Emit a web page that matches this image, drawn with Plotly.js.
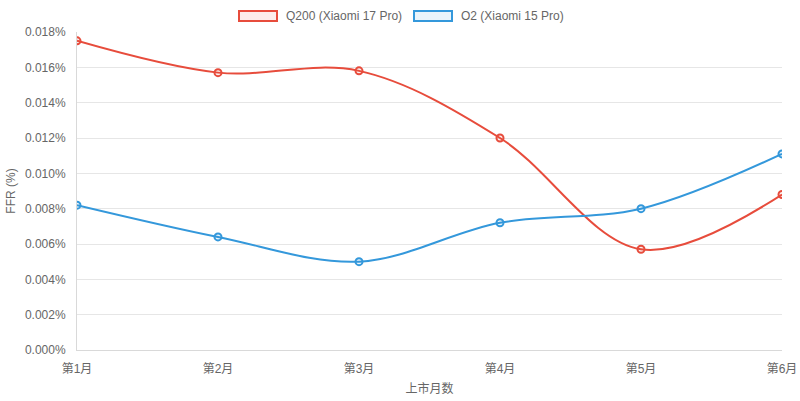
<!DOCTYPE html>
<html>
<head>
<meta charset="utf-8">
<script src="https://cdn.plot.ly/plotly-3.0.1.min.js"></script>
<style>
  html, body { margin: 0; padding: 0; background: #fff; }
  #chart { width: 800px; height: 401px; }
</style>
</head>
<body>
<div id="chart"></div>
<script>
// months since launch
const months = ['第1月', '第2月', '第3月', '第4月', '第5月', '第6月'];
// FFR in percent
const q200 = [0.0175, 0.0157, 0.0158, 0.0120, 0.0057, 0.0088];
const o2 = [0.0082, 0.0064, 0.0050, 0.0072, 0.0080, 0.0111];
const seriesNames = ['Q200 (Xiaomi 17 Pro)', 'O2 (Xiaomi 15 Pro)'];
const yTicks = [0, 0.002, 0.004, 0.006, 0.008, 0.010, 0.012, 0.014, 0.016, 0.018];

const RED = '#e74c3c';
const BLUE = '#3498db';
const FONT = 'Liberation Sans, Arial, Noto Sans CJK SC, sans-serif';

function lineTrace(name, values, color, fill) {
	return {
		x: months,
		y: values,
		name: name,
		type: 'scatter',
		mode: 'lines+markers',
		line: { color: color, width: 2, shape: 'spline', smoothing: 1 },
		marker: { symbol: 'circle', size: 7, color: fill, line: { color: color, width: 2 } },
		showlegend: false,
		hoverinfo: 'x+y+name'
	};
}

const traces = [
	lineTrace(seriesNames[0], q200, RED, 'rgba(231,76,60,0.1)'),
	lineTrace(seriesNames[1], o2, BLUE, 'rgba(52,152,219,0.1)')
];

// chart.js style legend boxes
function legendItem(x, label, color, fill) {
	return [
		{
			xref: 'paper', yref: 'paper', x: x, y: 1, yshift: 16,
			xanchor: 'left', yanchor: 'middle', showarrow: false,
			text: ' ', width: 36, height: 8,
			bgcolor: fill, bordercolor: color, borderwidth: 2, borderpad: 0
		},
		{
			xref: 'paper', yref: 'paper', x: x, y: 1, yshift: 16, xshift: 46,
			xanchor: 'left', yanchor: 'middle', showarrow: false,
			text: label, font: { family: FONT, size: 12, color: '#666' }
		}
	];
}

const layout = {
	width: 800,
	height: 401,
	margin: { l: 77, r: 18, t: 32, b: 51 },
	paper_bgcolor: '#fff',
	plot_bgcolor: '#fff',
	font: { family: FONT, size: 12, color: '#666' },
	showlegend: false,
	xaxis: {
		type: 'category',
		range: [0, months.length - 1],
		showgrid: false,
		showline: true,
		linecolor: '#d9d9d9',
		linewidth: 1,
		ticks: '',
		ticklabelstandoff: 8,
		tickfont: { family: FONT, size: 12, color: '#666' },
		title: { text: '上市月数', standoff: 9, font: { family: FONT, size: 12, color: '#666' } },
		zeroline: false,
		fixedrange: true
	},
	yaxis: {
		range: [0, 0.018],
		tickmode: 'array',
		tickvals: yTicks,
		ticktext: yTicks.map(v => v.toFixed(3) + '%'),
		showgrid: true,
		gridcolor: '#e6e6e6',
		gridwidth: 1,
		showline: true,
		linecolor: '#d9d9d9',
		zeroline: false,
		ticks: '',
		ticklabelstandoff: 8,
		tickfont: { family: FONT, size: 12, color: '#666' },
		title: { text: 'FFR (%)', standoff: 6, font: { family: FONT, size: 12, color: '#666' } },
		fixedrange: true
	},
	annotations: [].concat(
		legendItem(0.229, seriesNames[0], RED, 'rgba(231,76,60,0.1)'),
		legendItem(0.477, seriesNames[1], BLUE, 'rgba(52,152,219,0.1)')
	)
};

Plotly.newPlot('chart', traces, layout, { displayModeBar: false, responsive: false });
</script>
</body>
</html>
